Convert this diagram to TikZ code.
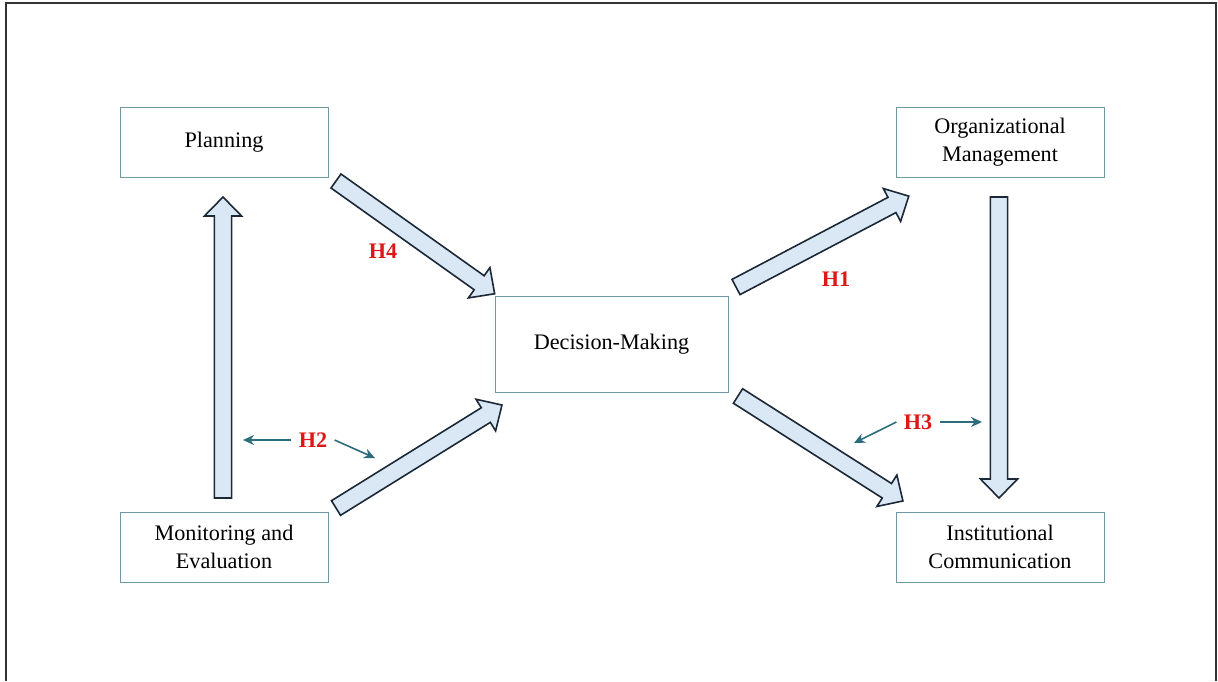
\documentclass[tikz,border=0pt]{standalone}
\usepackage{fontspec}
\setmainfont{Liberation Serif}
\usetikzlibrary{calc,arrows.meta}
\definecolor{boxline}{RGB}{112,152,162}
\definecolor{arrfill}{RGB}{218,232,245}
\definecolor{arrline}{RGB}{28,40,54}
\definecolor{hred}{RGB}{222,24,24}
\definecolor{hteal}{RGB}{44,108,124}
\tikzset{
  box/.style={draw=boxline,line width=0.5pt,minimum width=104pt,minimum height=35pt,
    align=center,font=\fontsize{11.1}{14}\selectfont},
  hyp/.style={text=hred,font=\fontsize{11.1}{14}\selectfont\bfseries,inner sep=3.5pt},
  hint/.style={draw=hteal,line width=0.8pt,-{Stealth[length=5.5pt,width=5pt]}},
  fat/.style={draw=arrline,fill=arrfill,line width=0.8pt,line join=miter},
}
\newcommand{\blockarrow}[2]{%
  \pgfpointdiff{\pgfpointanchor{#1}{center}}{\pgfpointanchor{#2}{center}}%
  \pgfgetlastxy{\bdx}{\bdy}%
  \pgfmathparse{atan2(\bdy,\bdx)}\edef\barang{\pgfmathresult}%
  \pgfmathparse{veclen(\bdx,\bdy)}\edef\barlen{\pgfmathresult}%
  \pgfmathparse{\barlen-9.5}\edef\barbase{\pgfmathresult}%
  \draw[fat,shift={(#1)},rotate=\barang]
    (0pt,-4.3pt) -- (\barbase pt,-4.3pt) -- (\barbase pt,-9.3pt) -- (\barlen pt,0pt)
    -- (\barbase pt,9.3pt) -- (\barbase pt,4.3pt) -- (0pt,4.3pt) -- cycle;
}

\begin{document}
\begin{tikzpicture}[x=0.5pt,y=-0.5pt]
  \useasboundingbox (0,0) rectangle (1218,681);
  \draw[line width=0.7pt,draw=black!80] (6,681) -- (6,3) -- (1216,3) -- (1216,681);

  \node[box] (plan) at (224,142) {Planning};
  \node[box] (org) at (1000,142) {Organizational\\Management};
  \node[box,minimum width=116.5pt,minimum height=48pt] (dec) at (611.5,344) {Decision-Making};
  \node[box] (mon) at (224,547) {Monitoring and\\Evaluation};
  \node[box] (inst) at (1000,547) {Institutional\\Communication};

  \coordinate (up0) at (223,498);
  \coordinate (up1) at (223,197);
  \coordinate (dn0) at (999,197);
  \coordinate (dn1) at (999,498);
  \coordinate (pd0) at (336,181);
  \coordinate (pd1) at (495,294);
  \coordinate (md0) at (336,508);
  \coordinate (md1) at (502,405);
  \coordinate (do0) at (736,287);
  \coordinate (do1) at (909,196);
  \coordinate (di0) at (738,396);
  \coordinate (di1) at (903,501);

  \foreach \a/\b in {up0/up1,dn0/dn1,pd0/pd1,md0/md1,do0/do1,di0/di1}
    \blockarrow{\a}{\b};

  \node[hyp] (h4) at (383,251) {H4};
  \node[hyp] (h1) at (836,279) {H1};
  \node[hyp] (h2) at (313,440) {H2};
  \node[hyp] (h3) at (918,422) {H3};

  \coordinate (h2l) at (243,440);
  \coordinate (h2r) at (375,458);
  \coordinate (h3l) at (854,443);
  \coordinate (h3r) at (982,422);

  \foreach \a/\b in {h2.west/h2l,h2.east/h2r,h3.west/h3l,h3.east/h3r}
    \draw[hint] (\a) -- (\b);
\end{tikzpicture}
\end{document}
